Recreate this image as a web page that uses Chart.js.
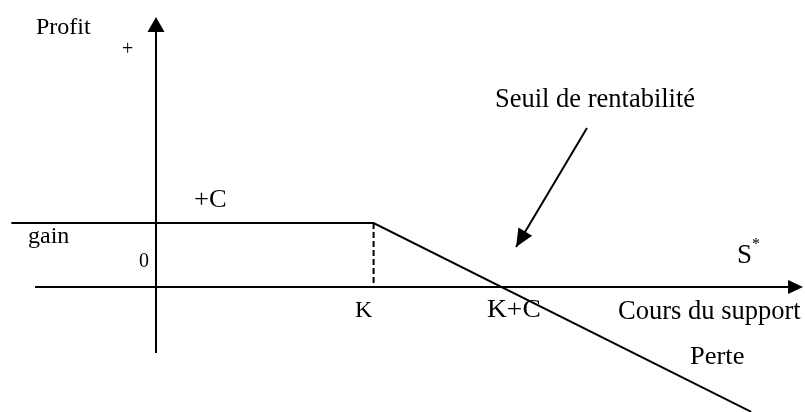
<!DOCTYPE html>
<html>
<head>
<meta charset="utf-8">
<script src="https://cdn.jsdelivr.net/npm/chart.js@4/dist/chart.umd.min.js"></script>
<style>
html,body{margin:0;padding:0;background:#fff;}
#wrap{width:805px;height:412px;position:relative;}
</style>
</head>
<body>
<div id="wrap"><canvas id="c"></canvas></div>
<script>
// ---- data (units: price S on x, profit on y) ----
const strikeK = 17;
const premiumC = 10;
const payoffPrice = [-11.3, 17, 46.5];
const payoffProfit = [10, 10, -19.5];
const strikeMarkerPrice = [17, 17];
const strikeMarkerProfit = [10, 0];
const xAxisPrice = [-9.45, 49.4];
const yAxisProfit = [-10.3, 41];
const breakEvenArrowPrice = [33.67, 28.13];
const breakEvenArrowProfit = [24.84, 6.25];
const tickLabels = ['0', 'K', 'K+C'];
const axisTitles = ['Profit', 'Cours du support'];
const zoneLabels = ['+', '+C', 'gain', 'Perte', 'S', '*', 'Seuil de rentabilité'];

const pts = (xs, ys) => xs.map((x, i) => ({x: x, y: ys[i]}));
const serif = '"Liberation Serif", "Times New Roman", serif';

const overlay = {
  id: 'overlay',
  afterDatasetsDraw(chart) {
    const ctx = chart.ctx;
    const xs = chart.scales.x, ys = chart.scales.y;
    const px = v => xs.getPixelForValue(v);
    const py = v => ys.getPixelForValue(v);
    ctx.save();
    ctx.fillStyle = '#000';
    function head(tx, ty, fx, fy, len, hw) {
      const dx = tx - fx, dy = ty - fy, d = Math.hypot(dx, dy);
      const ux = dx / d, uy = dy / d;
      const bx = tx - ux * len, by = ty - uy * len;
      ctx.beginPath();
      ctx.moveTo(tx, ty);
      ctx.lineTo(bx - uy * hw, by + ux * hw);
      ctx.lineTo(bx + uy * hw, by - ux * hw);
      ctx.closePath();
      ctx.fill();
    }
    // y axis arrow
    head(px(0), py(42.19), px(0), py(0), 15, 8.5);
    // x axis arrow
    head(px(50.55), py(0), px(0), py(0), 15, 7);
    // break-even pointer arrow
    head(px(breakEvenArrowPrice[1]), py(breakEvenArrowProfit[1]),
         px(breakEvenArrowPrice[0]), py(breakEvenArrowProfit[0]), 18, 8);

    function txt(s, x, y, size, sx) {
      ctx.save();
      ctx.font = size + 'px ' + serif;
      ctx.textAlign = 'left';
      ctx.textBaseline = 'alphabetic';
      ctx.translate(px(x), py(y));
      ctx.scale(sx || 1, 1);
      ctx.fillText(s, 0, 0);
      ctx.restore();
    }
    // axis titles
    txt(axisTitles[0], -9.375, 39.53, 24, 1);
    txt(axisTitles[1], 36.1, -5.0, 26.5, 1);
    // tick labels
    txt(tickLabels[0], -1.33, 3.1, 20, 1);
    txt(tickLabels[1], 15.55, -4.69, 24, 1);
    txt(tickLabels[2], 25.86, -4.69, 25, 1.1);
    // zone labels
    txt(zoneLabels[0], -2.65, 36.3, 20, 1);
    txt(zoneLabels[1], 2.97, 12.5, 25, 1.06);
    txt(zoneLabels[2], -10.0, 6.9, 24, 1);
    txt(zoneLabels[3], 41.72, -12.03, 26, 1.02);
    txt(zoneLabels[4], 45.39, 3.75, 27, 1);
    txt(zoneLabels[5], 46.56, 5.94, 16, 1);
    txt(zoneLabels[6], 26.48, 28.125, 26.5, 1);
    ctx.restore();
  }
};

const line = (data, extra) => Object.assign({
  data: data, borderColor: '#000', borderWidth: 2, pointRadius: 0,
  fill: false, tension: 0, clip: false
}, extra || {});

new Chart(document.getElementById('c'), {
  type: 'scatter',
  data: {
    datasets: [
      line(pts(payoffPrice, payoffProfit), {showLine: true}),
      line(pts(strikeMarkerPrice, strikeMarkerProfit), {showLine: true, borderDash: [6, 3]}),
      line(pts(xAxisPrice, [0, 0]), {showLine: true}),
      line(pts([0, 0], yAxisProfit), {showLine: true}),
      line(pts(breakEvenArrowPrice, breakEvenArrowProfit), {showLine: true})
    ]
  },
  options: {
    responsive: true,
    maintainAspectRatio: false,
    animation: false,
    layout: {padding: 0},
    plugins: {legend: {display: false}, tooltip: {enabled: false}},
    events: [],
    scales: {
      x: {type: 'linear', display: false, min: -12.1875, max: 50.703},
      y: {type: 'linear', display: false, min: -19.53, max: 44.84}
    }
  },
  plugins: [overlay]
});
</script>
</body>
</html>
